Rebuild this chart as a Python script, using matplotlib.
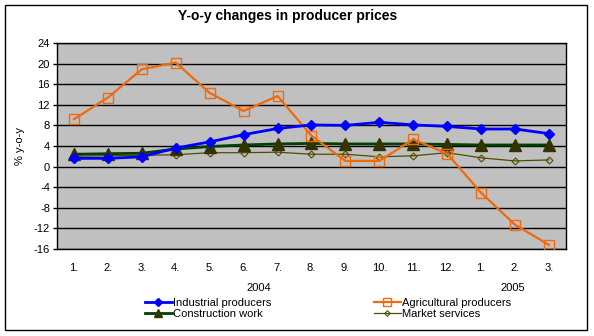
import matplotlib
matplotlib.use("Agg")
import matplotlib.pyplot as plt
from matplotlib.patches import Rectangle
import numpy as np

plt.rcParams['font.family'] = ['Liberation Sans', 'DejaVu Sans']

months = ["1.", "2.", "3.", "4.", "5.", "6.", "7.", "8.", "9.", "10.", "11.", "12.", "1.", "2.", "3."]
industrial = [1.6, 1.6, 1.9, 3.6, 4.8, 6.2, 7.4, 8.1, 8.0, 8.6, 8.1, 7.8, 7.3, 7.3, 6.4]
agricultural = [9.2, 13.4, 18.9, 20.2, 14.3, 10.8, 13.7, 6.0, 1.1, 1.1, 5.3, 2.5, -5.1, -11.3, -15.2]
construction = [2.4, 2.5, 2.6, 3.4, 3.9, 4.2, 4.4, 4.5, 4.4, 4.4, 4.4, 4.3, 4.2, 4.2, 4.2]
market = [2.0, 2.1, 2.2, 2.3, 2.7, 2.7, 2.8, 2.4, 2.4, 1.9, 2.1, 2.7, 1.7, 1.1, 1.3]
years = ["2004", "2005"]
yticks = list(range(-16, 25, 4))

W, H = 594, 336
fig = plt.figure(figsize=(W / 100, H / 100), dpi=100)
fig.patch.set_facecolor("white")

def fx(px):
    return px / W

def fy(py):
    return 1 - py / H

ax = fig.add_axes([fx(57), fy(249), fx(566) - fx(57), fy(43) - fy(249)])
ax.set_facecolor("#c0c0c0")
x = np.arange(len(months))

ax.plot(x, industrial, color="#0000ff", lw=2.0, marker="D", ms=5, mfc="#0000ff", mec="#0000ff",
        label="Industrial producers", zorder=5)
ax.plot(x, agricultural, color="#ee6a0c", lw=1.6, marker="s", ms=6.5, mfc="none", mec="#ee6a0c", mew=1.0,
        label="Agricultural producers", zorder=4)
ax.plot(x, construction, color="#004000", lw=2.0, marker="^", ms=8, mfc="#333300", mec="#333300",
        label="Construction work", zorder=3)
ax.plot(x, market, color="#4d4d00", lw=0.9, marker="D", ms=3.5, mfc="none", mec="#4d4d00", mew=0.8,
        label="Market services", zorder=2)

ax.set_xlim(-0.5, len(months) - 0.5)
ax.set_ylim(-16, 24)
ax.set_yticks(yticks)
ax.set_yticklabels([str(t) for t in yticks], fontsize=8)
ax.set_xticks(x)
ax.set_xticklabels(months, fontsize=8)
ax.tick_params(axis="x", length=0, pad=10)
ax.tick_params(axis="y", length=3, width=1, direction="out", pad=2)
ax.grid(axis="y", color="black", lw=1)
ax.set_axisbelow(True)
for s in ax.spines.values():
    s.set_color("black")
    s.set_linewidth(1)

ax.set_ylabel("% y-o-y", fontsize=8, labelpad=6)
fig.text(fx(288), fy(16), "Y-o-y changes in producer prices", fontsize=10, fontweight="bold",
         ha="center", va="center")

fig.text(fx(259), fy(288), years[0], fontsize=8, ha="center", va="center")
fig.text(fx(513), fy(288), years[1], fontsize=8, ha="center", va="center")

handles, labels = ax.get_legend_handles_labels()
common = dict(loc="upper left", frameon=False, fontsize=8, handlelength=2.4, handletextpad=0.1,
              labelspacing=0.05, borderpad=0, borderaxespad=0, markerscale=0.8)
leg1 = fig.legend([handles[0], handles[2]], [labels[0], labels[2]],
                  bbox_to_anchor=(fx(145), fy(298)), **common)
leg2 = fig.legend([handles[1], handles[3]], [labels[1], labels[3]],
                  bbox_to_anchor=(fx(374), fy(298)), **common)

fig.patches.append(Rectangle((fx(5), fy(330)), fx(587) - fx(5), fy(5) - fy(330),
                             transform=fig.transFigure, fill=False, edgecolor="black", lw=1))

fig.savefig("out.png", dpi=100)
